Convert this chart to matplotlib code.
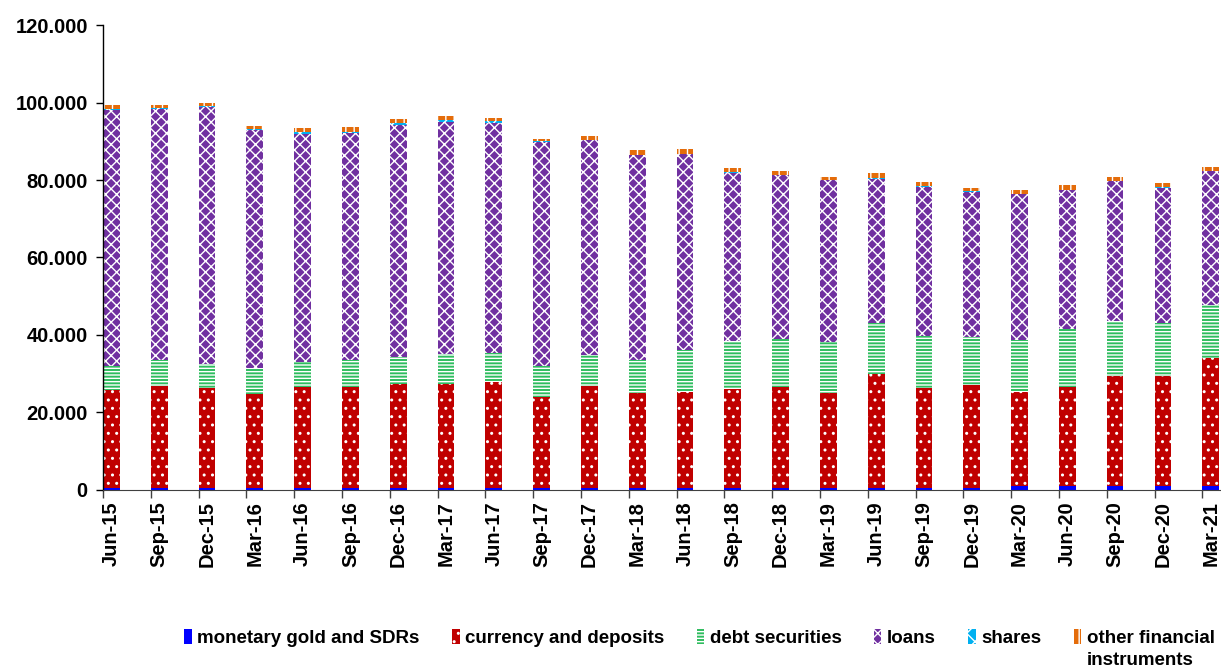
import numpy as np
import matplotlib
matplotlib.use('Agg')
import matplotlib.pyplot as plt
from matplotlib.patches import Patch

plt.rcParams['font.family'] = ['Liberation Sans', 'DejaVu Sans']
plt.rcParams['font.weight'] = 'bold'
plt.rcParams['hatch.linewidth'] = 1.0

# quarters
quarters = ['Jun-15', 'Sep-15', 'Dec-15', 'Mar-16', 'Jun-16', 'Sep-16', 'Dec-16', 'Mar-17',
            'Jun-17', 'Sep-17', 'Dec-17', 'Mar-18', 'Jun-18', 'Sep-18', 'Dec-18', 'Mar-19',
            'Jun-19', 'Sep-19', 'Dec-19', 'Mar-20', 'Jun-20', 'Sep-20', 'Dec-20', 'Mar-21']

# values in thousands
gold = [0.4, 0.4, 0.4, 0.4, 0.4, 0.4, 0.4, 0.4, 0.4, 0.4, 0.4, 0.4,
        0.4, 0.4, 0.4, 0.4, 0.4, 0.4, 0.4, 0.9, 0.9, 0.9, 0.9, 0.9]
currency = [25.4, 26.4, 25.8, 24.4, 26.1, 26.1, 27.0, 26.9, 27.5, 23.7, 26.4, 24.7,
            25.0, 25.6, 26.3, 24.7, 29.5, 25.8, 26.7, 24.5, 25.6, 28.5, 28.5, 33.1]
debt = [6.3, 6.7, 6.2, 6.6, 6.5, 7.1, 6.8, 7.7, 7.5, 8.0, 8.0, 8.4,
        10.7, 12.5, 12.2, 13.0, 13.1, 13.5, 12.5, 13.3, 15.0, 14.3, 13.6, 13.7]
loans = [66.0, 64.7, 66.5, 61.5, 58.9, 58.6, 60.0, 59.9, 59.2, 57.8, 55.5, 52.9,
         50.6, 43.2, 42.4, 41.9, 37.3, 38.6, 37.4, 37.7, 35.9, 36.0, 35.0, 34.6]
shares = [0.3, 0.5, 0.3, 0.3, 0.5, 0.3, 0.5, 0.7, 0.5, 0.2, 0.1, 0.1,
          0.1, 0.3, 0.1, 0.1, 0.1, 0.1, 0.1, 0.1, 0.1, 0.1, 0.1, 0.1]
other = [0.9, 0.6, 0.8, 0.8, 0.9, 1.1, 1.0, 0.8, 0.9, 0.6, 1.0, 1.2,
         1.2, 1.0, 0.9, 0.6, 1.3, 1.0, 0.9, 0.9, 1.2, 1.0, 1.0, 1.0]

series = [
    ('monetary gold and SDRs', gold, '#0000FF', None),
    ('currency and deposits', currency, '#C00000', '..'),
    ('debt securities', debt, '#2EBD5E', '-----'),
    ('loans', loans, '#7030A0', 'xxx'),
    ('shares', shares, '#00B0F0', 'xx'),
    ('other financial', other, '#E46C0A', '||'),
]

fig = plt.figure(figsize=(12.21, 6.69), dpi=100)
ax = fig.add_axes([0.0844, 0.2676, 0.9156, 0.695])

x = np.arange(len(quarters))
w = 0.35
bottom = np.zeros(len(quarters))
handles = []
for name, vals, col, hatch in series:
    vals = np.array(vals)
    ax.bar(x, vals, w, bottom=bottom, align='edge', color=col,
           edgecolor='white', linewidth=0, hatch=hatch)
    bottom += vals
    handles.append(Patch(facecolor=col, edgecolor='white', linewidth=0,
                         hatch=hatch, label=name))

ax.set_xlim(0, 23.39)
ax.set_ylim(0, 120)
ax.set_yticks(np.arange(0, 121, 20))
ax.set_yticklabels(['0' if v == 0 else f'{v:.3f}' for v in np.arange(0, 121, 20)],
                   fontsize=14.5, fontweight='bold')
ax.set_xticks(x + w / 2)
ax.set_xticklabels(quarters, rotation=90, fontsize=14.5, fontweight='bold')
ax.set_xticks(x, minor=True)
ax.tick_params(axis='x', which='major', length=0, pad=8)
ax.tick_params(axis='x', which='minor', length=6, width=1, color='#404040')
ax.tick_params(axis='y', length=5, width=1, pad=6)

for s in ['top', 'right']:
    ax.spines[s].set_visible(False)
ax.spines['left'].set_linewidth(1)
ax.spines['bottom'].set_color('#404040')

leg = fig.legend(handles=handles, loc='center left', bbox_to_anchor=(0.151, 0.047),
                 ncol=6, frameon=False, fontsize=13.5, handlelength=0.4,
                 handleheight=0.85, handletextpad=0.3, columnspacing=1.72,
                 borderaxespad=0, borderpad=0)
for t in leg.get_texts():
    t.set_fontweight('bold')

# second line of the last legend label, under its first line
fig.canvas.draw()
bb = leg.get_texts()[-1].get_window_extent().transformed(fig.transFigure.inverted())
fig.text(bb.x0, bb.y0 - 0.008, 'instruments', fontsize=13.5, fontweight='bold',
         ha='left', va='top')

fig.savefig('out.png', dpi=100)
